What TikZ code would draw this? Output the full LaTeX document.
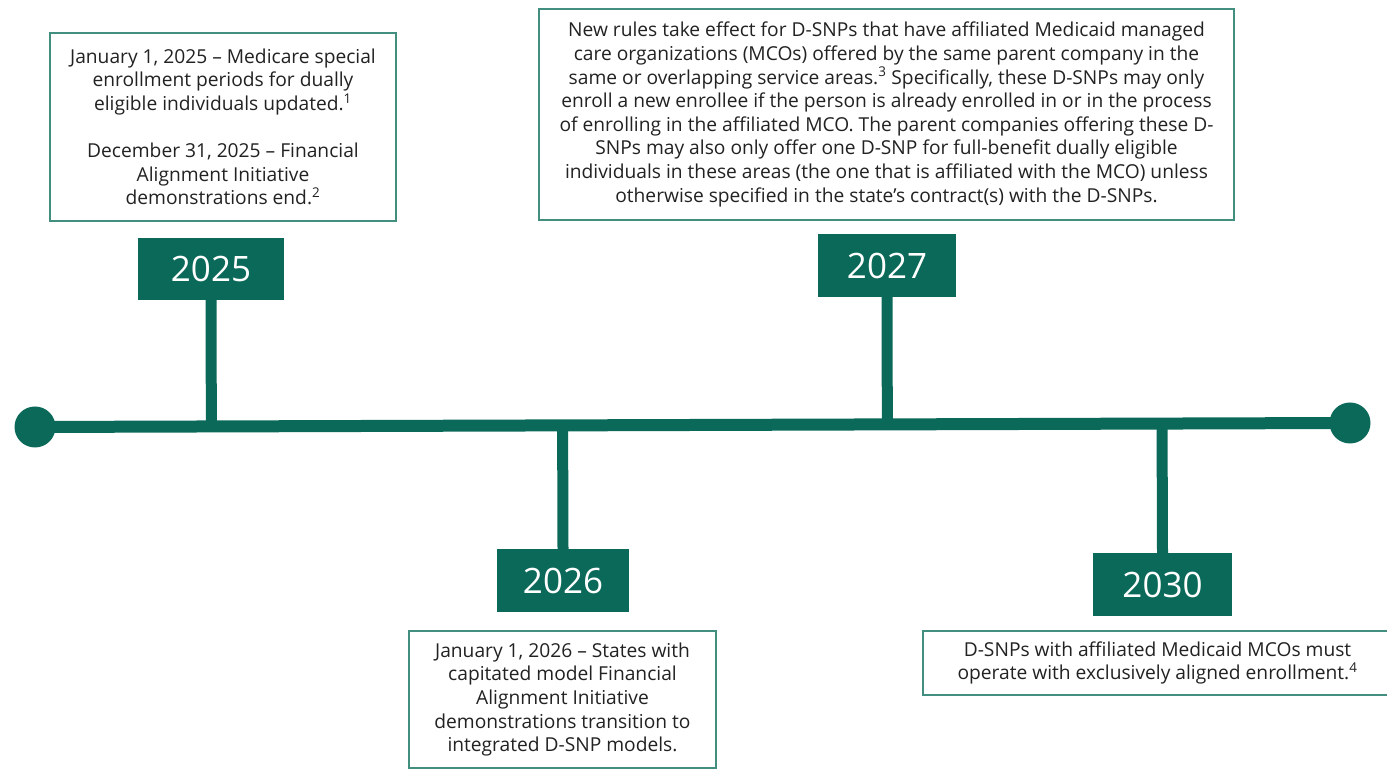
\documentclass[tikz,border=0pt]{standalone}
\usepackage{fontspec}
\setmainfont{Open Sans}
\usetikzlibrary{calc}
\definecolor{tlgreen}{RGB}{10, 105, 89}
\definecolor{tledge}{RGB}{66, 143, 128}
\definecolor{tltext}{RGB}{34, 34, 34}

\tikzset{
  yearbox/.style={fill=tlgreen, text=white, inner sep=0pt, font=\fontsize{35}{40}\selectfont},
  note/.style={draw=tledge, line width=1.5pt, fill=white, text=tltext, align=center, inner sep=0pt,
    font=\fontsize{19.2}{23.6}\selectfont},
  stem/.style={tlgreen, line width=11pt},
  axis/.style={tlgreen, line width=12pt},
  dot/.style={circle, fill=tlgreen, minimum size=41pt, inner sep=0pt}
}

\begin{document}
\begin{tikzpicture}[x=1pt, y=1pt]
\useasboundingbox (0,0) rectangle (1387,770);

% main line
\coordinate (start) at (35,343);
\coordinate (end) at (1350,347);
\draw[axis] (start) -- (end);
\node[dot] (ldot) at (start) {};
\node[dot] (rdot) at (end) {};

% year boxes
\node[yearbox, minimum width=146pt, minimum height=62pt] (y2025) at (211,501) {2025};
\node[yearbox, minimum width=138pt, minimum height=63pt] (y2027) at (887,504.5) {2027};
\node[yearbox, minimum width=132pt, minimum height=63pt] (y2026) at (563,189.5) {2026};
\node[yearbox, minimum width=139pt, minimum height=63pt] (y2030) at (1162.5,185.5) {2030};

% stems down to / up from the line
\draw[stem] (y2025.south) -- ($(start)!(y2025.south)!(end)$);
\draw[stem] (y2027.south) -- ($(start)!(y2027.south)!(end)$);
\draw[stem] (y2026.north) -- ($(start)!(y2026.north)!(end)$);
\draw[stem] (y2030.north) -- ($(start)!(y2030.north)!(end)$);

% notes
\node[note, minimum width=346pt, minimum height=188pt] (t2025) at (223,643) {%
  January 1, 2025 -- Medicare special\\ enrollment periods for dually\\ eligible individuals updated.\textsuperscript{1}\\[23.6pt]
  December 31, 2025 -- Financial\\ Alignment Initiative\\ demonstrations end.\textsuperscript{2}};
\node[note, minimum width=695pt, minimum height=211pt] (t2027) at (886.5,655.5) {%
  New rules take effect for D-SNPs that have affiliated Medicaid managed\\
  care organizations (MCOs) offered by the same parent company in the\\
  same or overlapping service areas.\textsuperscript{3} Specifically, these D-SNPs may only\\
  enroll a new enrollee if the person is already enrolled in or in the process\\
  of enrolling in the affiliated MCO. The parent companies offering these D-\\
  SNPs may also only offer one D-SNP for full-benefit dually eligible\\
  individuals in these areas (the one that is affiliated with the MCO) unless\\
  otherwise specified in the state’s contract(s) with the D-SNPs.};
\node[note, minimum width=307pt, minimum height=137pt] (t2026) at (562.5,70.5) {%
  January 1, 2026 -- States with\\ capitated model Financial\\ Alignment Initiative\\
  demonstrations transition to\\ integrated D-SNP models.};
\node[note, minimum width=469pt, minimum height=64pt] (t2030) at (1157.5,107) {%
  D-SNPs with affiliated Medicaid MCOs must\\ operate with exclusively aligned enrollment.\textsuperscript{4}};
\end{tikzpicture}
\end{document}
